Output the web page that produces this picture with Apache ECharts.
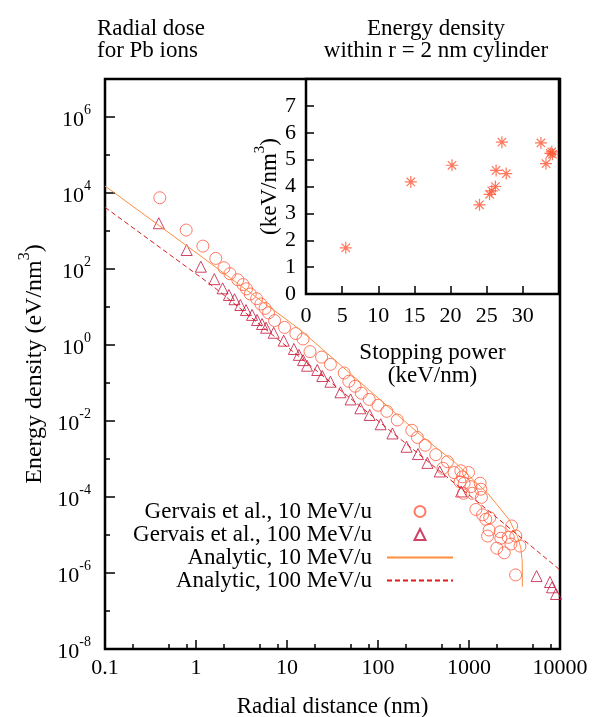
<!DOCTYPE html>
<html>
<head>
<meta charset="utf-8">
<script src="https://cdn.jsdelivr.net/npm/echarts@6/dist/echarts.min.js"></script>
<style>
  html, body { margin: 0; padding: 0; background: #fff; }
  #chart { width: 592px; height: 717px; }
</style>
</head>
<body>
<div id="chart"></div>
<script>
// radial dose for Pb ions, [radial distance (nm), energy density (eV/nm^3)]
const gervais10 = [
  [0.40, 7500], [0.78, 1060], [1.19, 400], [1.65, 190], [2.03, 108], [2.36, 75],
  [2.88, 52], [3.29, 39], [3.59, 30], [3.95, 22], [4.64, 16.5], [5.16, 12],
  [5.74, 9.2], [6.27, 7.0], [7.3, 4.4], [9.4, 2.9], [12.5, 2.0], [15.0, 1.44],
  [17.9, 0.67], [24, 0.48], [30, 0.31], [42.5, 0.183], [47.8, 0.111], [56, 0.082],
  [65.6, 0.054], [80, 0.037], [100, 0.026], [125, 0.018], [163, 0.0106], [235, 0.0057],
  [271, 0.0037], [330, 0.0023], [431, 0.0013], [517, 5.7e-4], [580, 8.5e-4], [685, 4.4e-4],
  [813, 4.9e-4], [848, 3.4e-4], [797, 2.5e-4], [883, 2.3e-4], [870, 1.25e-4], [988, 4.4e-4],
  [1050, 1.87e-4], [1090, 1.25e-4], [1190, 4.7e-5], [1325, 2.3e-4], [1350, 1.6e-4], [1370, 9.8e-5],
  [1410, 3.4e-5], [1530, 2.6e-5], [1600, 9.4e-6], [1665, 1.35e-5], [1690, 2.85e-5], [2020, 4.5e-6],
  [2200, 1.22e-5], [2240, 8.2e-6], [2440, 3.4e-6], [2700, 8.7e-6], [2890, 5.8e-6], [2940, 1.73e-5],
  [3250, 8.9e-7], [3270, 9.4e-6], [3630, 5.1e-6]
];
const gervais100 = [
  [0.39, 1600], [0.79, 316], [1.13, 115], [1.59, 54], [1.96, 31], [2.3, 20.7],
  [2.65, 16], [3.07, 11.3], [3.54, 8.3], [4.13, 6.2], [4.69, 4.55], [5.32, 3.57],
  [5.89, 2.85], [7.14, 2.1], [9.2, 1.3], [11.9, 0.785], [13.5, 0.55], [15, 0.40],
  [16.6, 0.285], [21.5, 0.22], [24.4, 0.153], [30, 0.108], [38.7, 0.057], [50, 0.037],
  [64, 0.0216], [81, 0.0144], [107, 0.0082], [144, 0.0047], [206, 0.0021], [275, 0.00135],
  [349, 7.9e-4], [477, 4.7e-4], [820, 1.4e-4], [5530, 8.3e-7], [7760, 5.8e-7], [8170, 4.2e-7],
  [9030, 2.8e-7]
];
const analytic10 = [
  [0.1, 15300], [1, 270], [10, 4.55], [14, 2.48], [31.6, 0.455], [100, 0.0405],
  [316, 3.65e-3], [700, 8.1e-4], [1000, 3.6e-4], [1600, 1.26e-4], [2000, 6.6e-5],
  [2770, 2.5e-5], [3420, 9.0e-6], [3715, 4.5e-6], [3846, 2.0e-6], [3860, 4.4e-7]
];
const analytic100 = [
  [0.1, 4200], [1.56, 34.2], [10, 0.90], [100, 0.0101], [1000, 1.13e-4],
  [1600, 4.55e-5], [10000, 1.2e-6]
];

// inset: [stopping power (keV/nm), energy density within r = 2 nm (keV/nm^3)]
const insetPoints = [
  [5.5, 1.72], [14.5, 4.17], [20.2, 4.79], [24.0, 3.32], [25.4, 3.71], [25.7, 3.84],
  [26.2, 4.0], [26.3, 4.6], [27.1, 5.65], [27.7, 4.48], [32.5, 5.62], [33.2, 4.85],
  [33.8, 5.23], [34.0, 5.29], [34.1, 5.2]
];

const xMajorTicks = [0.1, 1, 10, 100, 1000, 10000];
const xMinorTicks = [0.2, 0.5, 0.8, 2, 5, 8, 20, 50, 80, 200, 500, 800, 2000, 5000, 8000];
const yMajorTicks = [1e-8, 1e-6, 1e-4, 1e-2, 1, 1e2, 1e4, 1e6];
const yMinorTicks = [1e-7, 1e-5, 1e-3, 1e-1, 10, 1e3, 1e5];
const insetXTicks = [0, 5, 10, 15, 20, 25, 30];
const insetYTicks = [0, 1, 2, 3, 4, 5, 6, 7];

const seriesNames = ['Gervais et al., 10 MeV/u', 'Gervais et al., 100 MeV/u', 'Analytic, 10 MeV/u', 'Analytic, 100 MeV/u'];

const FONT = 'Liberation Serif';
const txt = { fontFamily: FONT, fontSize: 22, color: '#000' };
const nameTxt = { fontFamily: FONT, fontSize: 23, color: '#000' };
const supRich = (size) => ({
  b: { fontFamily: FONT, fontSize: size, color: '#000', lineHeight: size + 6, verticalAlign: 'bottom' },
  s: { fontFamily: FONT, fontSize: Math.round(size * 0.65), color: '#000', lineHeight: 15, verticalAlign: 'top' }
});
const STAR = 'path://M0,5L10,5M5,0L5,10M1.5,1.5L8.5,8.5M1.5,8.5L8.5,1.5';

const chart = echarts.init(document.getElementById('chart'));

const tickStyle = { color: '#000', width: 1.5 };

// gnuplot-style key: text right-aligned, sample to its right
const legendOpt = (name, i) => {
  const isPoint = i < 2;
  const opt = {
    data: [name],
    orient: 'vertical',
    right: isPoint ? 165.5 : 138,
    top: 500 + i * 23,
    align: 'right',
    itemWidth: isPoint ? 11 : 66,
    itemHeight: 11,
    padding: 0,
    selectedMode: false,
    textStyle: { fontFamily: FONT, fontSize: 23, color: '#000', padding: [0, isPoint ? 37.5 : 10, 0, 0] }
  };
  if (!isPoint) opt.itemStyle = { color: 'transparent', borderColor: 'transparent', borderWidth: 0 };
  return opt;
};

const option = {
  animation: false,
  backgroundColor: '#fff',
  title: [
    { text: 'Radial dose\nfor Pb ions', left: 92, top: 13, textStyle: { ...nameTxt, fontWeight: 'normal', lineHeight: 22 } },
    { text: 'Energy density\nwithin r = 2 nm cylinder', left: 431, top: 13, textAlign: 'center',
      textStyle: { ...nameTxt, fontWeight: 'normal', lineHeight: 22 } }
  ],
  legend: seriesNames.map(legendOpt),
  grid: [
    { left: 105, top: 79, width: 455, height: 570, outerBoundsMode: 'none', containLabel: false,
      show: true, borderColor: '#000', borderWidth: 2.5, backgroundColor: 'transparent' },
    { left: 306, top: 79, width: 253, height: 215, outerBoundsMode: 'none', containLabel: false,
      show: true, borderColor: '#000', borderWidth: 2.5, backgroundColor: '#fff' }
  ],
  xAxis: [
    {
      type: 'log', gridIndex: 0, logBase: 10, min: 0.1, max: 10000, position: 'bottom',
      axisLine: { show: false },
      axisTick: { inside: true, length: 9, lineStyle: tickStyle, customValues: xMajorTicks },
      axisLabel: { ...txt, margin: 8, customValues: xMajorTicks, formatter: (v) => (v < 1 ? String(v) : String(Math.round(v))) },
      splitLine: { show: false },
      name: 'Radial distance (nm)', nameLocation: 'middle', nameGap: 46, nameTextStyle: nameTxt
    },
    {
      type: 'log', gridIndex: 0, logBase: 10, min: 0.1, max: 10000, position: 'bottom',
      axisLine: { show: false },
      axisTick: { inside: true, length: 5, lineStyle: tickStyle, customValues: xMinorTicks },
      axisLabel: { show: false }, splitLine: { show: false }
    },
    {
      type: 'value', gridIndex: 1, min: 0, max: 35, position: 'bottom',
      axisLine: { show: false },
      axisTick: { inside: true, length: 8, lineStyle: tickStyle, customValues: insetXTicks },
      axisLabel: { ...txt, margin: 11, customValues: insetXTicks },
      splitLine: { show: false },
      name: 'Stopping power\n(keV/nm)', nameLocation: 'middle', nameGap: 47,
      nameTextStyle: { ...nameTxt, lineHeight: 23 }
    }
  ],
  yAxis: [
    {
      type: 'log', gridIndex: 0, logBase: 10, min: 1e-8, max: 1e7, position: 'left',
      axisLine: { show: false },
      axisTick: { inside: true, length: 10, lineStyle: tickStyle, customValues: yMajorTicks },
      axisLabel: {
        margin: 14, customValues: yMajorTicks, rich: supRich(22),
        formatter: (v) => '{b|10}{s|' + Math.round(Math.log10(v)) + '}'
      },
      splitLine: { show: false },
      name: '{b|Energy density (eV/nm}{s|3}{b|)}', nameLocation: 'middle', nameGap: 52,
      nameTextStyle: { rich: supRich(24) }
    },
    {
      type: 'log', gridIndex: 0, logBase: 10, min: 1e-8, max: 1e7, position: 'left',
      axisLine: { show: false },
      axisTick: { inside: true, length: 5, lineStyle: tickStyle, customValues: yMinorTicks },
      axisLabel: { show: false }, splitLine: { show: false }
    },
    {
      type: 'value', gridIndex: 1, min: 0, max: 8, position: 'left',
      axisLine: { show: false },
      axisTick: { inside: true, length: 8, lineStyle: tickStyle, customValues: insetYTicks },
      axisLabel: { ...txt, margin: 10, customValues: insetYTicks },
      splitLine: { show: false },
      name: '{b|(keV/nm}{s|3}{b|)}', nameLocation: 'middle', nameGap: 24,
      nameTextStyle: { rich: supRich(23) }
    }
  ],
  series: [
    {
      name: seriesNames[0], type: 'scatter', xAxisIndex: 0, yAxisIndex: 0,
      data: gervais10, symbol: 'circle', symbolSize: 12,
      itemStyle: { color: 'transparent', borderColor: '#ff5a3c', borderWidth: 1 }
    },
    {
      name: seriesNames[1], type: 'scatter', xAxisIndex: 0, yAxisIndex: 0,
      data: gervais100, symbol: 'triangle', symbolSize: 11,
      itemStyle: { color: 'transparent', borderColor: '#c3143f', borderWidth: 1 }
    },
    {
      name: seriesNames[2], type: 'line', xAxisIndex: 0, yAxisIndex: 0,
      data: analytic10, symbol: 'none',
      lineStyle: { color: '#ff8e3e', width: 1 }, itemStyle: { color: '#ff8e3e' }
    },
    {
      name: seriesNames[3], type: 'line', xAxisIndex: 0, yAxisIndex: 0,
      data: analytic100, symbol: 'none',
      lineStyle: { color: '#dc1c1c', width: 1, type: [5, 3] }, itemStyle: { color: '#dc1c1c' }
    },
    {
      name: 'inset', type: 'scatter', xAxisIndex: 2, yAxisIndex: 2,
      data: insetPoints, symbol: STAR, symbolSize: 12,
      itemStyle: { color: 'transparent', borderColor: '#ff5533', borderWidth: 1.2 }
    }
  ]
};

chart.setOption(option);
</script>
</body>
</html>
